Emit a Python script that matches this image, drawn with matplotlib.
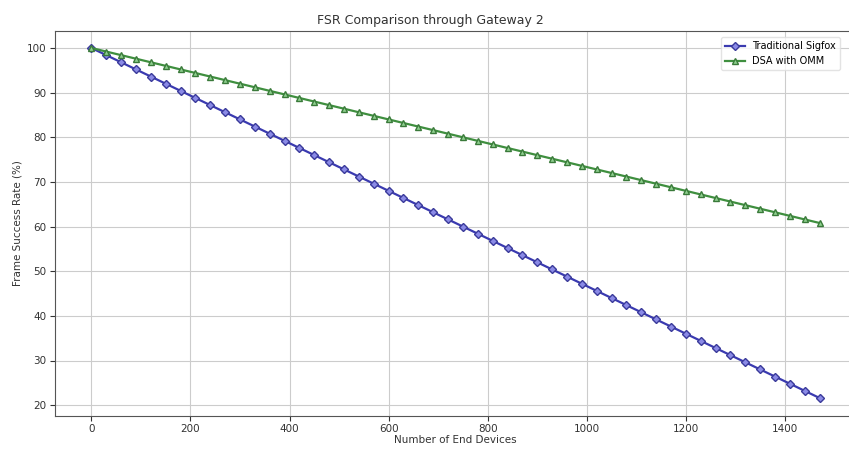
import matplotlib
matplotlib.use("Agg")
import matplotlib.pyplot as plt

devices = [0, 30, 60, 90, 120, 150, 180, 210, 240, 270,
           300, 330, 360, 390, 420, 450, 480, 510, 540, 570,
           600, 630, 660, 690, 720, 750, 780, 810, 840, 870,
           900, 930, 960, 990, 1020, 1050, 1080, 1110, 1140, 1170,
           1200, 1230, 1260, 1290, 1320, 1350, 1380, 1410, 1440, 1470]

traditional = [100.0, 98.4, 96.8, 95.2, 93.6, 92.0, 90.4, 88.8, 87.2, 85.6,
               84.0, 82.4, 80.8, 79.2, 77.6, 76.0, 74.4, 72.8, 71.2, 69.6,
               68.0, 66.4, 64.8, 63.2, 61.6, 60.0, 58.4, 56.8, 55.2, 53.6,
               52.0, 50.4, 48.8, 47.2, 45.6, 44.0, 42.4, 40.8, 39.2, 37.6,
               36.0, 34.4, 32.8, 31.2, 29.6, 28.0, 26.4, 24.8, 23.2, 21.6]

dsa_omm = [100.0, 99.2, 98.4, 97.6, 96.8, 96.0, 95.2, 94.4, 93.6, 92.8,
           92.0, 91.2, 90.4, 89.6, 88.8, 88.0, 87.2, 86.4, 85.6, 84.8,
           84.0, 83.2, 82.4, 81.6, 80.8, 80.0, 79.2, 78.4, 77.6, 76.8,
           76.0, 75.2, 74.4, 73.6, 72.8, 72.0, 71.2, 70.4, 69.6, 68.8,
           68.0, 67.2, 66.4, 65.6, 64.8, 64.0, 63.2, 62.4, 61.6, 60.8]

fig = plt.figure(figsize=(8.49, 4.49), dpi=100)
ax = fig.add_axes([55/849, 1 - 415.5/449, (856 - 55)/849, (415.5 - 30.5)/449])

ax.plot(devices, traditional, color='#3a3ab0', marker='D', markersize=4,
        markerfacecolor='#8a8ae6', markeredgecolor='#3a3a9a', linewidth=1.6,
        label='Traditional Sigfox')
ax.plot(devices, dsa_omm, color='#3f8f3f', marker='^', markersize=4,
        markerfacecolor='#8fd08f', markeredgecolor='#3a7a3a', linewidth=1.6,
        label='DSA with OMM')

ax.set_xticks([0, 200, 400, 600, 800, 1000, 1200, 1400])
ax.set_yticks([20, 30, 40, 50, 60, 70, 80, 90, 100])
ax.tick_params(labelsize=7.5, colors='#333333', pad=2.5)
ax.grid(True, color='#cccccc', linewidth=0.8)
ax.set_xlabel('Number of End Devices', fontsize=7.5, color='#333333', labelpad=1)
ax.set_ylabel('Frame Success Rate (%)', fontsize=7.5, color='#333333', labelpad=3)
ax.set_title('FSR Comparison through Gateway 2', fontsize=9, color='#333333',
             x=(430 - 55) / (856 - 55), pad=5)
for s in ax.spines.values():
    s.set_color('#555555')

ax.legend(loc='upper right', fontsize=7, bbox_to_anchor=((845 - 55) / (856 - 55), 1 - 2 / 385),
          framealpha=0.8, edgecolor='#dddddd')

fig.savefig('out.png', dpi=100)
